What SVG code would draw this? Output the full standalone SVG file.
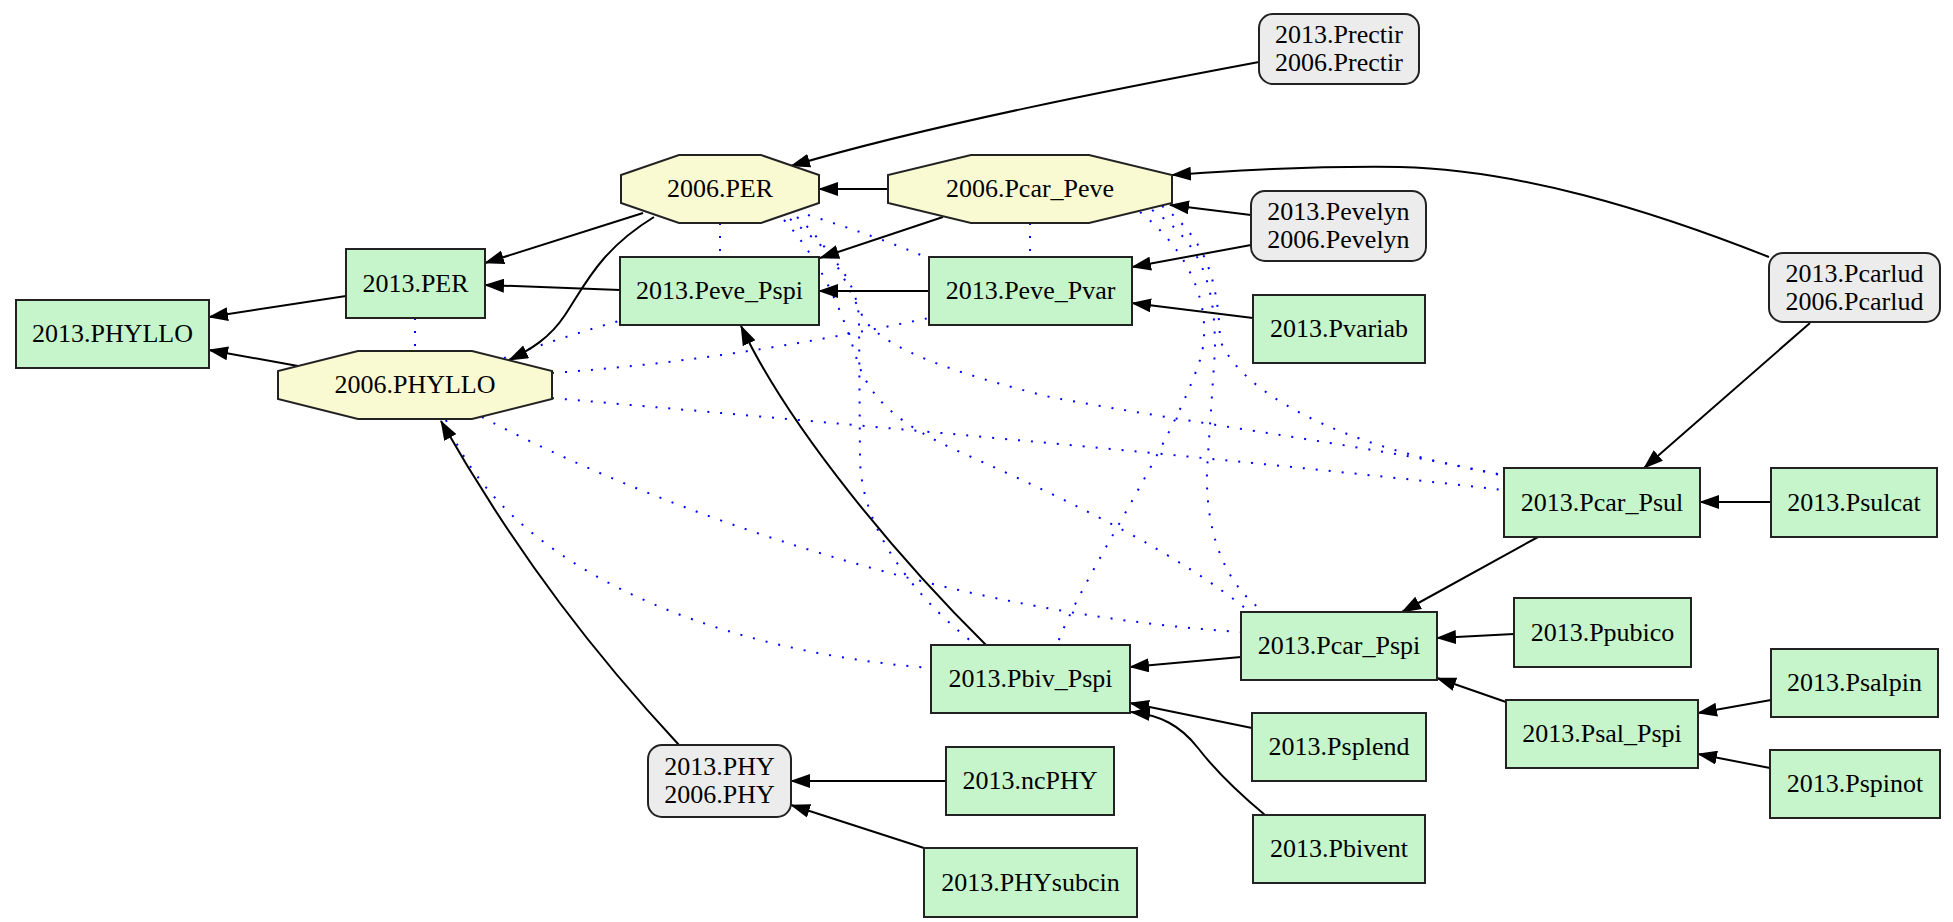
<svg xmlns="http://www.w3.org/2000/svg" width="1953" height="922" viewBox="0 0 1953 922">
<style>
text{font-family:"Liberation Serif","Times New Roman",serif;font-size:26px;text-anchor:middle;fill:#000}
.box{fill:#c6f5cb;stroke:#222;stroke-width:2}
.oct{fill:#fafad2;stroke:#222;stroke-width:2}
.rnd{fill:#ececec;stroke:#222;stroke-width:2}
.e{fill:none;stroke:#000;stroke-width:2;marker-end:url(#ah)}
.d{fill:none;stroke:#0000ff;stroke-width:2;stroke-dasharray:2 11}
</style>
<defs>
<marker id="ah" viewBox="0 0 20 14" refX="19" refY="7" markerWidth="20" markerHeight="14" markerUnits="userSpaceOnUse" orient="auto">
<path d="M0,0 L20,7 L0,14 z" fill="#000"/>
</marker>
</defs>
<rect width="1953" height="922" fill="#fff"/>
<g id="connectors">
<g id="dotted">
<path class="d" d="M720,223 V257"/>
<path class="d" d="M1030,223 V257"/>
<path class="d" d="M415,318 V351"/>
<path class="d" d="M504,358 C540,345 580,332 619,321"/>
<path class="d" d="M552,373 C680,364 800,345 929,318"/>
<path class="d" d="M552,398 C800,420 1200,455 1504,490"/>
<path class="d" d="M482,417 C600,480 900,610 1241,632"/>
<path class="d" d="M446,420 C500,560 700,650 931,668"/>
<path class="d" d="M808,215 C850,228 890,242 928,258"/>
<path class="d" d="M790,219 C830,250 858,280 859,320 L860,460 C862,540 930,610 976,645"/>
<path class="d" d="M797,217 C840,255 852,300 866,322 C890,350 950,372 1050,397 C1200,425 1400,450 1504,476"/>
<path class="d" d="M784,220 C825,265 845,320 857,360 C870,400 900,425 960,452 C1080,505 1180,555 1250,612"/>
<path class="d" d="M1140,212 C1200,260 1212,320 1200,360 C1170,450 1080,580 1057,645"/>
<path class="d" d="M1152,210 C1205,245 1215,290 1215,350 L1207,470 C1205,540 1230,590 1265,612"/>
<path class="d" d="M1162,206 C1200,235 1218,270 1220,340 C1240,390 1330,445 1504,475"/>
</g>
<g id="solid">
<path class="e" d="M346,296 L209,317"/>
<path class="e" d="M298,366 L209,350"/>
<path class="e" d="M643,213 L485,263"/>
<path class="e" d="M654,217 C600,250 585,285 565,315 C550,338 530,350 509,360"/>
<path class="e" d="M620,290 L485,285"/>
<path class="e" d="M888,189 L819,189"/>
<path class="e" d="M943,217 L820,258"/>
<path class="e" d="M929,291 L819,291"/>
<path class="e" d="M1259,62 C1120,88 930,125 791,166"/>
<path class="e" d="M1769,257 C1650,210 1520,170 1400,167 C1300,166 1230,171 1172,175"/>
<path class="e" d="M1251,215 L1170,205"/>
<path class="e" d="M1251,245 L1132,267"/>
<path class="e" d="M1253,318 L1132,303"/>
<path class="e" d="M1810,323 L1644,468"/>
<path class="e" d="M1771,502 L1700,502"/>
<path class="e" d="M1538,537 L1402,612"/>
<path class="e" d="M1514,634 L1437,638"/>
<path class="e" d="M1506,702 L1437,678"/>
<path class="e" d="M1771,700 L1698,713"/>
<path class="e" d="M1770,768 L1698,754"/>
<path class="e" d="M1241,657 L1130,667"/>
<path class="e" d="M1252,728 L1130,703"/>
<path class="e" d="M1265,815 C1235,790 1215,770 1198,748 C1180,725 1160,715 1131,712"/>
<path class="e" d="M986,645 C900,560 790,430 741,326"/>
<path class="e" d="M679,745 C600,660 520,560 441,421"/>
<path class="e" d="M946,781 L791,781"/>
<path class="e" d="M924,848 L791,805"/>
</g>
</g>
<g id="n2013_PHYLLO"><rect class="box" x="16" y="300" width="193" height="68"/><text x="112.5" y="342">2013.PHYLLO</text></g>
<g id="n2013_PER"><rect class="box" x="346" y="249" width="139" height="69"/><text x="415.5" y="291.5">2013.PER</text></g>
<g id="n2006_PHYLLO"><polygon class="oct" points="358,351 472,351 552,371 552,399 472,419 358,419 278,399 278,371"/><text x="415" y="393">2006.PHYLLO</text></g>
<g id="n2006_PER"><polygon class="oct" points="679,155 761,155 819,175 819,203 761,223 679,223 621,203 621,175"/><text x="720" y="197">2006.PER</text></g>
<g id="n2006_Pcar_Peve"><polygon class="oct" points="971,155 1089,155 1172,175 1172,203 1089,223 971,223 888,203 888,175"/><text x="1030" y="197">2006.Pcar_Peve</text></g>
<g id="n2013_Peve_Pspi"><rect class="box" x="620" y="257" width="199" height="68"/><text x="719.5" y="299">2013.Peve_Pspi</text></g>
<g id="n2013_Peve_Pvar"><rect class="box" x="929" y="257" width="203" height="68"/><text x="1030.5" y="299">2013.Peve_Pvar</text></g>
<g id="n_Prectir"><rect class="rnd" x="1259" y="14" width="160" height="70" rx="14"/><text x="1339" y="43">2013.Prectir</text><text x="1339" y="71">2006.Prectir</text></g>
<g id="n_Pevelyn"><rect class="rnd" x="1251" y="191" width="175" height="70" rx="14"/><text x="1338.5" y="220">2013.Pevelyn</text><text x="1338.5" y="248">2006.Pevelyn</text></g>
<g id="n2013_Pvariab"><rect class="box" x="1253" y="295" width="172" height="68"/><text x="1339" y="337">2013.Pvariab</text></g>
<g id="n_Pcarlud"><rect class="rnd" x="1769" y="253" width="171" height="69" rx="14"/><text x="1854.5" y="281.5">2013.Pcarlud</text><text x="1854.5" y="309.5">2006.Pcarlud</text></g>
<g id="n2013_Pcar_Psul"><rect class="box" x="1504" y="468" width="196" height="69"/><text x="1602" y="510.5">2013.Pcar_Psul</text></g>
<g id="n2013_Psulcat"><rect class="box" x="1771" y="468" width="166" height="69"/><text x="1854" y="510.5">2013.Psulcat</text></g>
<g id="n2013_Pcar_Pspi"><rect class="box" x="1241" y="612" width="196" height="68"/><text x="1339" y="654">2013.Pcar_Pspi</text></g>
<g id="n2013_Ppubico"><rect class="box" x="1514" y="598" width="177" height="69"/><text x="1602.5" y="640.5">2013.Ppubico</text></g>
<g id="n2013_Pbiv_Pspi"><rect class="box" x="931" y="645" width="199" height="68"/><text x="1030.5" y="687">2013.Pbiv_Pspi</text></g>
<g id="n2013_Psalpin"><rect class="box" x="1771" y="649" width="167" height="68"/><text x="1854.5" y="691">2013.Psalpin</text></g>
<g id="n2013_Psal_Pspi"><rect class="box" x="1506" y="700" width="192" height="68"/><text x="1602" y="742">2013.Psal_Pspi</text></g>
<g id="n2013_Pspinot"><rect class="box" x="1770" y="750" width="170" height="68"/><text x="1855" y="792">2013.Pspinot</text></g>
<g id="n2013_Psplend"><rect class="box" x="1252" y="713" width="174" height="68"/><text x="1339" y="755">2013.Psplend</text></g>
<g id="n2013_Pbivent"><rect class="box" x="1253" y="815" width="172" height="68"/><text x="1339" y="857">2013.Pbivent</text></g>
<g id="n_PHY"><rect class="rnd" x="648" y="745" width="143" height="72" rx="14"/><text x="719.5" y="775">2013.PHY</text><text x="719.5" y="803">2006.PHY</text></g>
<g id="n2013_ncPHY"><rect class="box" x="946" y="747" width="168" height="68"/><text x="1030" y="789">2013.ncPHY</text></g>
<g id="n2013_PHYsubcin"><rect class="box" x="924" y="848" width="213" height="69"/><text x="1030.5" y="890.5">2013.PHYsubcin</text></g>
</svg>
